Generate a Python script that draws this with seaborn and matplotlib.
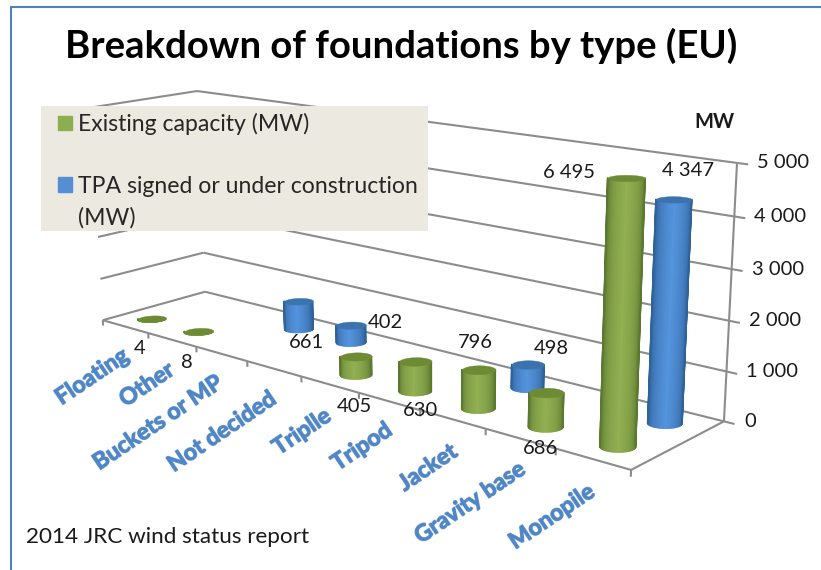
import numpy as np
import matplotlib
matplotlib.use("Agg")
import matplotlib.pyplot as plt
import matplotlib.patheffects as pe
import seaborn as sns
from matplotlib.patches import Rectangle, Patch
from mpl_toolkits.mplot3d.art3d import Poly3DCollection, Line3DCollection

categories = ["Floating", "Other", "Buckets or MP", "Not decided", "Triplle",
              "Tripod", "Jacket", "Gravity base", "Monopile"]
existing_capacity = [4, 8, None, None, 405, 630, 796, 686, 6495]
tpa_signed = [None, None, 661, 402, None, None, 498, None, 4347]
value_ticks = [0, 1000, 2000, 3000, 4000, 5000]
legend_rows = ["Existing capacity (MW)", " ", "TPA signed or under construction", "(MW)"]
title_text = "Breakdown of foundations by type (EU)"
source_text = "2014 JRC wind status report"
unit_text = "MW"

sns.set_theme(style="white")
plt.rcParams["font.family"] = ["Lato", "DejaVu Sans"]

W, H = 821, 570
Z_MAX = value_ticks[-1]
GREEN, BLUE = "#8DAE4F", "#558ED5"
GRID = "#8C8C8C"
TEXT = "#1a1a1a"

# camera: picture position of known corners of the chart box (cat, depth, kW, weight)
calib = [(0, 0, 0, 103, 320, 4), (9, 0, 0, 631, 470, 4), (9, 1, 0, 724, 421, 4), (0, 1, 0, 205, 292, 4),
         (9, 1, 5, 737, 163, 4), (0, 1, 5, 197, 91, 4), (0, 0, 5, 91, 108, 1),
         (9, 1, 1, 727, 371, 1), (9, 1, 3, 732, 269, 1), (0, 1, 1, 204, 253, 1),
         (0, 0, 1, 100, 278, 2), (0, 0, 2, 98, 237, 2),
         (1, 0, 0, 147, 333, 1), (2, 0, 0, 196, 347, 1), (3, 0, 0, 247, 362, 1),
         (4, 0, 0, 302, 378, 1), (5, 0, 0, 359, 393, 1), (7, 0, 0, 485, 432, 1)]
rows, rhs = [], []
for X, Y, Z, u, v, k in calib:
    rows.append([k * c for c in [X, Y, Z, 1, 0, 0, 0, 0, -u * X, -u * Y, -u * Z]]); rhs.append(k * u)
    rows.append([k * c for c in [0, 0, 0, 0, X, Y, Z, 1, -v * X, -v * Y, -v * Z]]); rhs.append(k * v)
p = np.linalg.lstsq(np.array(rows, float), np.array(rhs, float), rcond=None)[0]
P = np.array([p[:4], p[4:8], p[8:11].tolist() + [1.0]])
P[:, 2] /= 1000.0
M = np.array([P[0], P[1], [0, 0, 0, 1.0], P[2]])

fig = plt.figure(figsize=(W / 100, H / 100), dpi=100, facecolor="white")
ax = fig.add_axes([0, 0, 1, 1], projection="3d", computed_zorder=False)
ax.set_axis_off()
ax.get_proj = lambda: M
ax.apply_aspect = lambda position=None: None
ax.viewLim.intervalx = (0, W)
ax.viewLim.intervaly = (H, 0)


def project(X, Y, Z):
    q = P @ np.array([X, Y, Z, 1.0])
    return q[0] / q[2], q[1] / q[2]


# wall grid, ticks and floor
n_cat = len(categories)
segments = []
for z in value_ticks:
    segments.append([(0, 0, z), (0, 1, z)])
    segments.append([(0, 1, z), (n_cat, 1, z)])
    segments.append([(n_cat, 1, z), (n_cat + 0.14, 1, z)])
    u, v = project(n_cat, 1, z)
    ax.text2D(u + 20, v, f"{z:,}".replace(",", " "), transform=ax.transData, ha="left",
              va="center", fontsize=14.5, color=TEXT)
segments += [[(0, 0, 0), (n_cat, 0, 0)], [(n_cat, 0, 0), (n_cat, 1, 0)],
             [(n_cat, 1, 0), (n_cat, 1, Z_MAX)]]
for i in range(n_cat + 1):
    segments.append([(i, 0, 0), (i, 0, -130)])
ax.add_collection3d(Line3DCollection(segments, colors=GRID, linewidths=1.5, zorder=1))

# cylinders: screen-level ellipse expressed in floor units
ell_a, ell_b = np.array([0.158, 0.063]), np.array([0.0965, -0.0714])
base_dark = {GREEN: "#5C7830", BLUE: "#2F6299"}
base_mid = {GREEN: "#7F9D45", BLUE: "#4680C4"}
base_light = {GREEN: "#93B153", BLUE: "#5596DF"}
base_top = {GREEN: "#6D8A35", BLUE: "#3C73AE"}


def cylinder(x0, y0, value, base, zorder):
    h = min(value, Z_MAX)
    t = np.linspace(0, np.pi, 31)
    cx = x0 + np.cos(t) * ell_a[0] + np.sin(t) * ell_b[0]
    cy = y0 + np.cos(t) * ell_a[1] + np.sin(t) * ell_b[1]
    XX = np.vstack([cx, cx])
    YY = np.vstack([cy, cy])
    ZZ = np.vstack([np.zeros_like(cx), np.full_like(cx, h)])
    shade = sns.blend_palette([base_dark[base], base_mid[base], base_light[base],
                               base_mid[base], base_dark[base]], n_colors=30)
    fc = np.array([[(*c, 1.0) for c in shade]])
    ax.plot_surface(XX, YY, ZZ, facecolors=fc, rstride=1, cstride=1, shade=False, lw=1.0, zorder=zorder)
    t2 = np.linspace(0, 2 * np.pi, 61)
    dx = x0 + np.cos(t2) * ell_a[0] + np.sin(t2) * ell_b[0]
    dy = y0 + np.cos(t2) * ell_a[1] + np.sin(t2) * ell_b[1]
    cap = Poly3DCollection([list(zip(dx, dy, np.full_like(dx, h)))], facecolors=base_top[base],
                           edgecolors=base_top[base], linewidths=0.3, zorder=zorder + 0.1)
    ax.add_collection3d(cap)


order = 2
for series, depth, col in [(tpa_signed, 0.75, BLUE), (existing_capacity, 0.25, GREEN)]:
    for i, val in enumerate(series):
        if val is not None:
            cylinder(i + 0.5, depth, val, col, order)
            order += 1

# value labels: picture positions
label_pos = {("e", 0): (140, 349), ("e", 1): (187, 362), ("e", 4): (354, 407), ("e", 5): (421, 410),
             ("e", 6): (475, 343), ("e", 7): (541, 448), ("e", 8): (569, 173),
             ("t", 2): (306, 342), ("t", 3): (385, 323), ("t", 6): (551, 348), ("t", 8): (688, 171)}
for key, series in (("e", existing_capacity), ("t", tpa_signed)):
    for i, val in enumerate(series):
        if val is not None:
            u, v = label_pos[(key, i)]
            ax.text2D(u, v, f"{val:,}".replace(",", " "), transform=ax.transData, ha="center",
                      va="center", fontsize=14.5, color=TEXT, zorder=50)

# category labels
cat_pos = [(92, 377), (147, 385), (158, 423), (222, 432), (302, 432), (362, 447), (428, 468), (470, 503), (552, 517)]
for name, (u, v) in zip(categories, cat_pos):
    ax.text2D(u, v, name, transform=ax.transData, rotation=34, rotation_mode="anchor",
              ha="center", va="center", fontsize=16.5, fontweight="bold", color="#4F86C6", zorder=50,
              path_effects=[pe.withStroke(linewidth=1.0, foreground="#4F86C6", alpha=0.8)])

ax.text2D(401, 46, title_text, transform=ax.transData, ha="center", va="center", fontsize=27.5,
          fontweight="bold", color="black", zorder=50)
ax.text2D(26, 537, source_text, transform=ax.transData, ha="left", va="center", fontsize=16.2,
          color=TEXT, zorder=50)
ax.text2D(714, 122, unit_text, transform=ax.transData, ha="center", va="center", fontsize=14.5,
          fontweight="bold", color=TEXT, zorder=50)

# legend and frame
fig.add_artist(Rectangle((41 / W, 1 - 231 / H), 387 / W, 125 / H, transform=fig.transFigure,
                         facecolor="#ECEAE0", edgecolor="none", zorder=1))
blank = dict(facecolor="none", edgecolor="none")
handles = [Patch(color=GREEN, label=legend_rows[0]), Patch(label=legend_rows[1], **blank),
           Patch(color=BLUE, label=legend_rows[2]), Patch(label=legend_rows[3], **blank)]
fig.legend(handles=handles, loc="upper left", bbox_to_anchor=(58 / W, 1 - 113 / H),
           bbox_transform=fig.transFigure, frameon=False, fontsize=16.6, handlelength=0.6,
           handleheight=0.6, handletextpad=0.27, labelspacing=0.43, borderpad=0, borderaxespad=0)

fig.add_artist(Rectangle((11 / W, 1 - 600 / H), 815 / W, 593 / H, transform=fig.transFigure,
                         facecolor="none", edgecolor="#4F81BD", lw=1.5, zorder=1))
fig.savefig("out.png", dpi=100)
